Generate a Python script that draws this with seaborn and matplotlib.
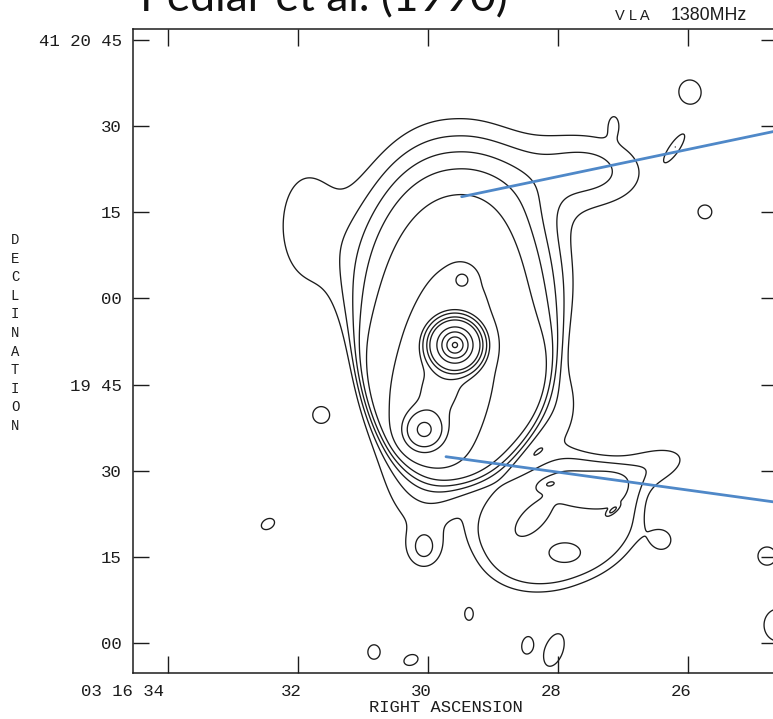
import numpy as np
import pandas as pd
import matplotlib
matplotlib.use("Agg")
import matplotlib.pyplot as plt
import seaborn as sns
from matplotlib.transforms import ScaledTranslation

# ---------------- data ----------------
ra_ticks = [34, 32, 30, 28, 26]                       # RA seconds (03 16 ss)
ra_tick_labels = ["03 16 34", "32", "30", "28", "26"]
dec_ticks = [105, 90, 75, 60, 45, 30, 15, 0]          # arcsec above +41 19 00
dec_tick_labels = ["41 20 45", "30", "15", "00", "19 45", "30", "15", "00"]

# brightness model
# components: RA (s), Dec ("), peak, major / minor width ("), angle (deg),
# edge softness (0 = gaussian, >0 = flat-topped with soft edge; north side may differ)
comp_ra    = [29.585, 31.892, 27.508, 27.138, 29.769, 29.815,
              29.585, 30.062, 29.477, 28.000, 26.615, 28.123, 28.400, 27.892, 27.154,
              28.046,
              25.969, 25.738, 26.185, 31.646, 32.462, 30.062, 26.400, 29.369, 24.785,
              24.615, 30.831, 30.262, 28.477, 28.062]
comp_dec   = [56.59, 72.78, 82.36, 90.72, 46.49, 44.40,
              51.89, 37.09, 63.21, 20.55, 30.47, 27.69, 21.42, 15.67, 23.16,
              41.44,
              95.94, 75.05, 86.54, 39.70, 20.72, 16.37, 17.90, 5.05, 15.15,
              3.13, -1.57, -2.96, -0.35, -1.22]
comp_peak  = [4.6, 1.25, 1.75, 0.8, 4.5, 9.0,
              1000.0, 45.0, 11.5, 2.1, 1.4, 0.9, 0.9, 0.9, 1.5,
              1.3,
              1.4, 1.4, 1.4, 1.4, 1.4, 1.25, 1.3, 1.4, 1.4,
              1.4, 1.4, 1.4, 1.4, 1.4]
comp_major = [28.21, 10.45, 8.0, 1.74, 15.15, 5.22,
              1.92, 1.95, 1.05, 14.9, 7.0, 1.1, 2.0, 1.6, 0.7,
              7.8,
              2.55, 1.38, 2.6, 1.7, 1.49, 2.5, 2.0, 1.27, 1.91,
              3.4, 1.49, 1.49, 1.7, 3.6]
comp_minor = [17.41, 5.22, 5.2, 1.04, 6.27, 3.13,
              1.92, 1.95, 1.05, 10.8, 3.13, 0.55, 1.0, 1.0, 0.26,
              4.35,
              2.34, 1.38, 0.8, 1.7, 1.06, 2.15, 2.0, 0.85, 1.91,
              2.97, 1.27, 1.06, 1.06, 1.9]
comp_angle = [90, 90, -5, 90, 82, 70,
              0, 0, 0, 20, 18, 15, 45, 0, 40,
              90,
              100, 0, 56, 0, 30, 90, 0, 90, 0,
              90, 90, 20, 80, 70]
comp_edge       = [0.04, 0, 0, 0, 0, 0, 0, 0, 0, 0.10] + [0.0] * 20
comp_edge_north = [0.17, 0, 0, 0, 0, 0, 0, 0, 0, 0.10] + [0.0] * 20

contour_levels = [1, 1.6, 2.3, 3.1, 4.2, 6.5, 14, 23.5, 48, 85, 271, 506, 777, 984]

# annotation pointers (blue lines)
pointer_ra  = [[29.482, 24.277], [29.723, 24.277]]
pointer_dec = [[77.71, 90.02], [32.44, 23.94]]

# ---------------- field ----------------
SEC_TO_ARCSEC = 11.32
ra_grid = np.linspace(24.2, 34.9, 800)
dec_grid = np.linspace(-10, 110, 900)
RA, DEC = np.meshgrid(ra_grid, dec_grid)
field = np.zeros_like(RA)
for r0, d0, pk, smaj, smin, ang, e_s, e_n in zip(comp_ra, comp_dec, comp_peak, comp_major,
                                                 comp_minor, comp_angle, comp_edge,
                                                 comp_edge_north):
    ex = -(RA - r0) * SEC_TO_ARCSEC
    ey = DEC - d0
    t = np.deg2rad(ang)
    u = ex * np.cos(t) + ey * np.sin(t)
    v = -ex * np.sin(t) + ey * np.cos(t)
    if e_s == 0:
        field += pk * np.exp(-0.5 * ((u / smaj) ** 2 + (v / smin) ** 2))
    else:
        n = 2.15
        rho = (np.abs(u / smaj) ** n + np.abs(v / smin) ** n) ** (1.0 / n)
        w = e_s + (e_n - e_s) / (1.0 + np.exp(-(DEC - d0) / 4.0))
        field += pk / (1.0 + np.exp((rho - 1.0) / w))

# ---------------- figure ----------------
sns.set_style("white")
plt.rcParams["font.family"] = ["Liberation Mono", "DejaVu Sans Mono"]

W, H = 773, 719
fig = plt.figure(figsize=(W / 100, H / 100), dpi=100)
ax = fig.add_axes([133 / W, (H - 673) / H, 644 / W, 644 / H])

ax.contour(RA, DEC, field, levels=contour_levels, colors="#1c1c1c", linewidths=0.95)

df = pd.DataFrame({
    "ra": [v for pair in pointer_ra for v in pair],
    "dec": [v for pair in pointer_dec for v in pair],
    "line": [i for i, pair in enumerate(pointer_ra) for _ in pair],
})
sns.lineplot(data=df, x="ra", y="dec", units="line", estimator=None, sort=False,
             color="#4f88c8", linewidth=2.0, ax=ax, legend=False)

ax.set_xlim(34.538, 24.631)
ax.set_ylim(-5.22, 106.91)
ax.set_xlabel("")
ax.set_ylabel("")

ax.set_xticks(ra_ticks)
ax.set_xticklabels(ra_tick_labels)
ax.set_yticks(dec_ticks)
ax.set_yticklabels(dec_tick_labels)
ax.tick_params(axis="x", direction="in", length=12.3, width=1.0, labelsize=12.5,
               pad=8, top=True, bottom=True, colors="#1c1c1c")
ax.tick_params(axis="y", direction="in", length=11.3, width=1.0, labelsize=12.5,
               pad=8, left=True, right=True, colors="#1c1c1c")
for sp in ax.spines.values():
    sp.set_color("#1c1c1c")
    sp.set_linewidth(1.1)

labels = ax.get_xticklabels()
for i, lbl in enumerate(labels):
    if i == 0:
        lbl.set_ha("right")
        dx = -4
    else:
        dx = -7
    lbl.set_transform(lbl.get_transform() + ScaledTranslation(dx / 100, 0, fig.dpi_scale_trans))

ax.text((446 - 133) / 644, -(708 - 673) / 644, "RIGHT ASCENSION", transform=ax.transAxes,
        ha="center", va="center", fontsize=12.3, color="#1c1c1c")
ax.text((15 - 133) / 644, (673 - 333) / 644, "\n".join("DECLINATION"), transform=ax.transAxes,
        ha="center", va="center", fontsize=10, linespacing=1.42, color="#1c1c1c")

title = fig.text(140 / W, 1 - 11 / H, "Pedlar et al. (1990)", fontfamily="Lato",
                 fontsize=30, ha="left", va="baseline", color="#111111")
vla = fig.text(615 / W, 1 - 16 / H, "V L A", fontfamily="Liberation Sans",
               fontsize=10.5, ha="left", va="center", color="#1c1c1c")
mhz = fig.text(671 / W, 1 - 16 / H, "1380MHz", fontfamily="Liberation Sans",
               fontsize=11.5, ha="left", va="center", color="#1c1c1c")

fig.canvas.draw()
r = fig.canvas.get_renderer()
w = title.get_window_extent(r).width
title.set_fontsize(30 * 367 / w)
w = mhz.get_window_extent(r).width
mhz.set_fontsize(11.5 * 76 / w)

fig.savefig("out.png", dpi=100)
